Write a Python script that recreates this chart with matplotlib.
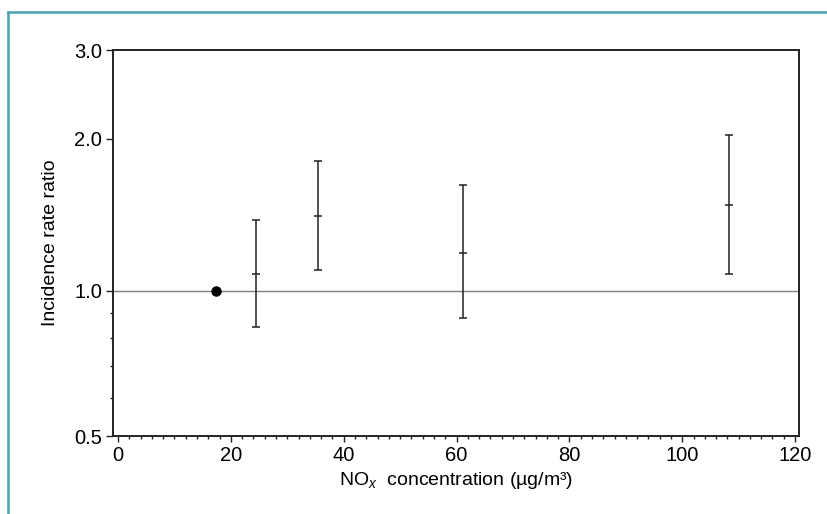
import matplotlib
matplotlib.use("Agg")
import numpy as np
import matplotlib.pyplot as plt
from matplotlib.ticker import FixedLocator, FixedFormatter, MultipleLocator, NullFormatter
from matplotlib.lines import Line2D

plt.rcParams['font.family'] = ['Liberation Sans', 'DejaVu Sans']
plt.rcParams['mathtext.fontset'] = 'custom'
plt.rcParams['mathtext.rm'] = 'Liberation Sans'
plt.rcParams['mathtext.it'] = 'Liberation Sans:italic'

# Data
ref_x = [17.4]
ref_irr = [1.0]
nox = [24.5, 35.5, 61.2, 108.3]
irr = [1.08, 1.41, 1.19, 1.48]
ci_low = [0.84, 1.10, 0.88, 1.08]
ci_high = [1.38, 1.81, 1.62, 2.04]
y_ticks = [0.5, 1.0, 2.0, 3.0]
y_ticklabels = ['0.5', '1.0', '2.0', '3.0']
y_minor = [0.6, 0.7, 0.8, 0.9]
x_ticks = [0, 20, 40, 60, 80, 100, 120]

# slightly uneven log axis, as in the original figure
BELOW = 144.0 / 151.0

def fwd(y):
    y = np.asarray(y, dtype=float)
    l = np.log2(np.clip(y, 1e-9, None))
    return np.where(l < 0, l * BELOW, l)

def inv(v):
    v = np.asarray(v, dtype=float)
    return np.where(v < 0, 2 ** (v / BELOW), 2 ** v)

fig = plt.figure(figsize=(8.27, 5.14), dpi=100)
ax = fig.add_axes([113/827, 1-436/514, (799-113)/827, (436-50)/514])

ax.set_yscale('function', functions=(fwd, inv))
ax.set_xlim(-0.9, 120.7)
ax.set_ylim(0.5, 3.0)

ax.axhline(1.0, color='#808080', lw=1.0, zorder=1)

err_lo = [m - l for m, l in zip(irr, ci_low)]
err_hi = [h - m for m, h in zip(irr, ci_high)]
ax.errorbar(nox, irr, yerr=[err_lo, err_hi], fmt='_', color='#222222',
            ecolor='#222222', elinewidth=1.1, capsize=2.6, capthick=1.1,
            markersize=5.2, markeredgewidth=1.1, zorder=3)
ax.plot(ref_x, ref_irr, 'o', color='black', markersize=6.5, zorder=4)

ax.yaxis.set_major_locator(FixedLocator(y_ticks))
ax.yaxis.set_major_formatter(FixedFormatter(y_ticklabels))
ax.yaxis.set_minor_locator(FixedLocator(y_minor))
ax.yaxis.set_minor_formatter(NullFormatter())
ax.xaxis.set_major_locator(FixedLocator(x_ticks))
ax.xaxis.set_minor_locator(MultipleLocator(2))

ax.tick_params(axis='both', which='major', direction='out', length=5, width=1,
               labelsize=14.5, color='#222222', pad=3)
ax.tick_params(axis='both', which='minor', direction='out', length=2.5, width=1,
               color='#222222')
ax.tick_params(axis='x', which='major', length=4, pad=3)

for s in ax.spines.values():
    s.set_linewidth(1.4)
    s.set_color('#222222')

ax.set_ylabel('Incidence rate ratio', fontsize=14, labelpad=11)
ax.set_xlabel(r'NO$_{\mathit{x}}$  concentration (µg/m³)', fontsize=14, labelpad=4)

# teal frame (left and top edges)
teal = '#4aa3b0'
fig.add_artist(Line2D([8/827, 8/827], [0, 1-12/514], transform=fig.transFigure,
                      color=teal, lw=1.8))
fig.add_artist(Line2D([8/827, 1], [1-12/514, 1-12/514], transform=fig.transFigure,
                      color=teal, lw=1.8))

fig.savefig('out.png', dpi=100)
